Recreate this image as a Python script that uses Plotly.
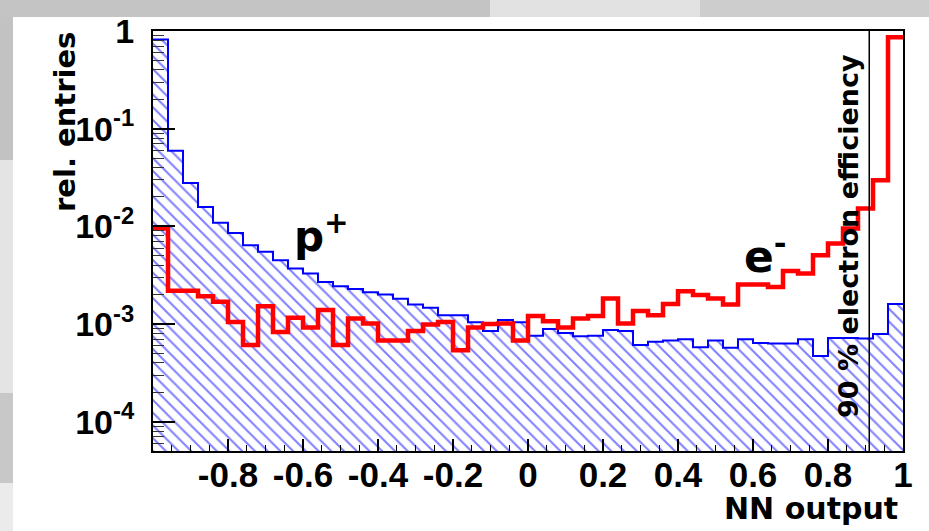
import numpy as np
import plotly.graph_objects as go

# ---- data ----
bin_edges = np.linspace(-1.0, 1.0, 51)
proton = [0.82, 0.0596, 0.0278, 0.0158, 0.0109, 0.00857, 0.0064, 0.0055, 0.0045, 0.00371,
          0.00329, 0.0027, 0.00244, 0.00229, 0.00212, 0.00200, 0.00181, 0.00158, 0.00147, 0.00123,
          0.00123, 0.00104, 0.00085, 0.00110, 0.00104, 0.00076, 0.00089, 0.00081, 0.00075, 0.00076,
          0.00087, 0.00085, 0.00061, 0.00066, 0.00068, 0.00070, 0.00058, 0.00068, 0.00057, 0.00070,
          0.00064, 0.00063, 0.00063, 0.00070, 0.00047, 0.00072, 0.00072, 0.00071, 0.00079, 0.00160]
electron = [0.0095, 0.00219, 0.00219, 0.00193, 0.00169, 0.00105, 0.00061, 0.00152, 0.00083, 0.00116,
            0.00092, 0.00139, 0.00061, 0.00114, 0.00101, 0.00068, 0.00068, 0.00085, 0.00099, 0.00105,
            0.00054, 0.00092, 0.00100, 0.00101, 0.00068, 0.00121, 0.00107, 0.00092, 0.00114, 0.00121,
            0.00183, 0.00101, 0.00136, 0.00123, 0.00160, 0.00217, 0.00198, 0.00183, 0.00158, 0.00254,
            0.00254, 0.00240, 0.00348, 0.00329, 0.00507, 0.00667, 0.0095, 0.0152, 0.0296, 0.865]
cut_value = 0.91
x_tickvals = [-0.8, -0.6, -0.4, -0.2, 0.0, 0.2, 0.4, 0.6, 0.8, 1.0]
x_ticktext = ["-0.8", "-0.6", "-0.4", "-0.2", "0", "0.2", "0.4", "0.6", "0.8", "1"]
y_tickvals = [1e-4, 1e-3, 1e-2, 1e-1, 1]
y_ticktext = ["10<sup>-4</sup>", "10<sup>-3</sup>", "10<sup>-2</sup>", "10<sup>-1</sup>", "1"]

W, H = 929, 531
ML, MR, MT, MB = 153, 26, 31, 80
PW, PH = W - ML - MR, H - MT - MB


def px(x):
    return (x - ML) / PW


def py(y):
    return (H - MB - y) / PH


centers = 0.5 * (bin_edges[:-1] + bin_edges[1:])
widths = np.diff(bin_edges)
step_x = list(bin_edges)
p_step = list(proton) + [proton[-1]]
e_step = list(electron) + [electron[-1]]

fig = go.Figure()
fig.add_trace(go.Bar(
    x=centers, y=proton, width=widths,
    marker=dict(color="rgba(0,0,0,0)", line=dict(width=0),
                pattern=dict(shape="\\", fgcolor="#0000ff", bgcolor="white", size=9, solidity=0.22)),
    showlegend=False, hoverinfo="skip"))
fig.add_trace(go.Scatter(x=step_x, y=p_step, mode="lines", line=dict(color="#0000ff", width=2, shape="hv"),
                         showlegend=False))
fig.add_trace(go.Scatter(x=step_x, y=e_step, mode="lines", line=dict(color="#ff0000", width=4.5, shape="hv"),
                         showlegend=False))
fig.add_trace(go.Scatter(x=[cut_value, cut_value], y=[10 ** -4.3, 1], mode="lines",
                         line=dict(color="black", width=1.5), showlegend=False))

minor_y = [m * 10.0 ** d for d in range(-5, 1) for m in range(2, 10) if m * 10.0 ** d < 1]

fig.update_layout(
    width=W, height=H, margin=dict(l=ML, r=MR, t=MT, b=MB),
    paper_bgcolor="white", plot_bgcolor="white", bargap=0,
    xaxis=dict(range=[-1, 1], tickvals=x_tickvals, ticktext=x_ticktext, ticks="inside", ticklen=12,
               tickwidth=1.5, tickcolor="black", showgrid=False, zeroline=False, showline=True,
               linecolor="black", linewidth=2, mirror=True, ticklabelstandoff=-8,
               tickfont=dict(family="Liberation Sans", size=35, color="black", weight="bold"),
               minor=dict(dtick=0.05, tick0=0, ticks="inside", ticklen=6, tickcolor="black", tickwidth=1)),
    yaxis=dict(type="log", range=[-4.3, 0.0], tickvals=y_tickvals, ticktext=y_ticktext, ticks="inside",
               ticklen=22, tickwidth=1.5, tickcolor="black", showgrid=False, zeroline=False, showline=True,
               linecolor="black", linewidth=2, mirror=True, ticklabelstandoff=10,
               tickfont=dict(family="Liberation Sans", size=34, color="black", weight="bold"),
               minor=dict(tickvals=minor_y, ticks="inside", ticklen=11, tickcolor="#333333", tickwidth=1)),
)

shapes = [
    dict(x0=px(0), x1=px(490), y0=py(17), y1=py(0), color="#c4c4c4"),
    dict(x0=px(490), x1=px(700), y0=py(17), y1=py(0), color="#e2e2e2"),
    dict(x0=px(700), x1=px(929), y0=py(17), y1=py(0), color="#cdcdcd"),
    dict(x0=px(0), x1=px(13), y0=py(160), y1=py(17), color="#c2c2c2"),
    dict(x0=px(0), x1=px(13), y0=py(393), y1=py(160), color="#e4e4e4"),
    dict(x0=px(0), x1=px(13), y0=py(483), y1=py(393), color="#c8c8c8"),
    dict(x0=px(0), x1=px(13), y0=py(531), y1=py(483), color="#ebebeb"),
]
for s in shapes:
    fig.add_shape(type="rect", xref="paper", yref="paper", x0=s["x0"], x1=s["x1"], y0=s["y0"], y1=s["y1"],
                  fillcolor=s["color"], line=dict(width=0), layer="below")

bold = dict(family="DejaVu Sans", color="black", weight="bold")
fig.add_annotation(text="rel. entries", textangle=-90, xref="paper", yref="paper", x=px(65), y=py(122),
                   xanchor="center", yanchor="middle", showarrow=False, font=dict(size=29, **bold))
fig.add_annotation(text="NN output", xref="paper", yref="paper", x=px(900), y=py(508),
                   xanchor="right", yanchor="middle", showarrow=False, font=dict(size=30, **bold))
fig.add_annotation(text="p<sup>+</sup>", xref="paper", yref="paper", x=px(292), y=py(234),
                   xanchor="left", yanchor="middle", showarrow=False, font=dict(size=42, **bold))
fig.add_annotation(text="e<sup>-</sup>", xref="paper", yref="paper", x=px(742), y=py(253),
                   xanchor="left", yanchor="middle", showarrow=False, font=dict(size=44, **bold))
fig.add_annotation(text="90 % electron efficiency", textangle=-90, xref="paper", yref="paper",
                   x=px(848), y=py(236), xanchor="center", yanchor="middle", showarrow=False,
                   font=dict(size=27, **bold))

fig.write_html("out.html")
